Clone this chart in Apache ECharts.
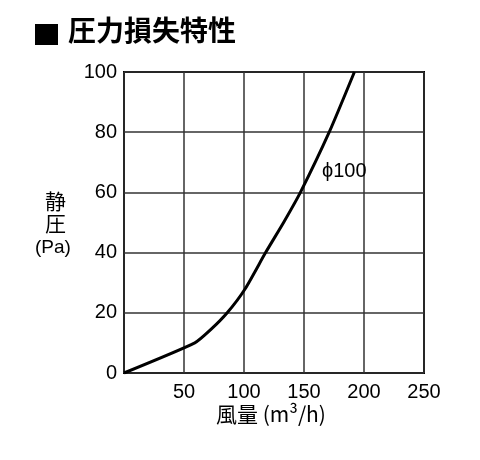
<!DOCTYPE html>
<html lang="ja">
<head>
<meta charset="utf-8" />
<title>圧力損失特性</title>
<script src="https://cdn.jsdelivr.net/npm/echarts@6/dist/echarts.min.js"></script>
<style>
  html, body { margin: 0; padding: 0; background: #fff; }
  #chart { width: 480px; height: 460px; }
</style>
</head>
<body>
<div id="chart"></div>
<script>
// 風量 (m3/h) と 静圧 (Pa)
var airflow  = [0, 59, 72, 86, 101, 118, 133, 147, 171, 192];
var pressure = [0, 10, 14.3, 20, 28, 40, 50, 60, 80, 100];
var xTicks = [0, 50, 100, 150, 200, 250];
var yTicks = [0, 20, 40, 60, 80, 100];
var curveName = 'ϕ100';
var labelAt = [165, 67];

var font = '"Liberation Sans", "Noto Sans CJK JP", sans-serif';
var jp = '"Noto Sans CJK JP", sans-serif';

var chart = echarts.init(document.getElementById('chart'));

var points = [];
for (var i = 0; i < airflow.length; i++) {
  points.push([airflow[i], pressure[i]]);
}

chart.setOption({
  animation: false,
  grid: {
    left: 124, right: 56, top: 72, bottom: 87,
    show: true, borderColor: '#000', borderWidth: 2, backgroundColor: 'transparent'
  },
  xAxis: {
    type: 'value',
    min: xTicks[0], max: xTicks[xTicks.length - 1], interval: 50,
    axisLine: { show: false },
    axisTick: { show: false },
    splitLine: { lineStyle: { color: '#333', width: 1.5 } },
    axisLabel: {
      color: '#000', fontSize: 20, fontFamily: font, margin: 9,
      formatter: function (v) { return v === 0 ? '' : v; }
    }
  },
  yAxis: {
    type: 'value',
    min: yTicks[0], max: yTicks[yTicks.length - 1], interval: 20,
    axisLine: { show: false },
    axisTick: { show: false },
    splitLine: { lineStyle: { color: '#333', width: 1.5 } },
    axisLabel: { color: '#000', fontSize: 20, fontFamily: font, margin: 7 }
  },
  series: [{
    type: 'line',
    data: points,
    smooth: 0.2,
    symbol: 'none',
    lineStyle: { color: '#000', width: 3, join: 'round' },
    markPoint: {
      symbol: 'circle', symbolSize: 0,
      data: [{ coord: labelAt, value: curveName }],
      label: {
        show: true, position: 'right', distance: 0,
        formatter: curveName, color: '#000', fontSize: 20, fontFamily: font
      }
    }
  }],
  graphic: [
    { type: 'rect', left: 35, top: 24, shape: { width: 23, height: 21 }, style: { fill: '#000' } },
    { type: 'text', left: 68, top: 16, style: { text: '圧力損失特性', font: 'bold 28px ' + jp, fill: '#000' } },
    { type: 'text', left: 45, top: 190, style: { text: '静\n圧', font: '21px ' + jp, fill: '#000', lineHeight: 22 } },
    { type: 'text', left: 35, top: 238, style: { text: '(Pa)', font: '19px ' + font, fill: '#000' } },
    { type: 'text', left: 216, top: 404, style: { text: '風量 (m³/h)', font: '21px ' + jp, fill: '#000' } }
  ]
});
</script>
</body>
</html>
